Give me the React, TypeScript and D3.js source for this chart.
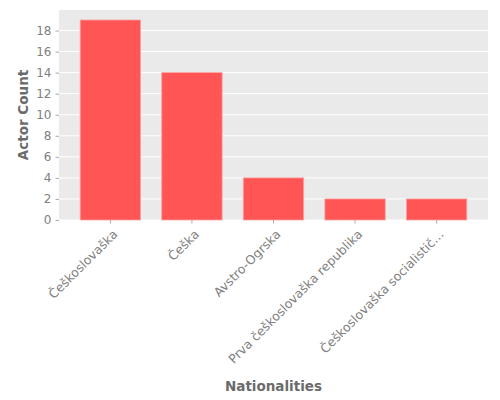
import { useEffect, useRef } from 'react';
import * as d3 from 'd3';

const nationalities = [
  'Češkoslovaška',
  'Češka',
  'Avstro-Ogrska',
  'Prva češkoslovaška republika',
  'Češkoslovaška socialistič…',
];
const actorCounts = [19, 14, 4, 2, 2];
const yTicks = [0, 2, 4, 6, 8, 10, 12, 14, 16, 18];

export default function App() {
  const svgRef = useRef<SVGSVGElement>(null);

  useEffect(() => {
    if (!svgRef.current) return;
    const width = 500;
    const height = 400;
    const margin = { top: 10, right: 12, bottom: 180, left: 59 };
    const innerWidth = width - margin.left - margin.right;
    const innerHeight = height - margin.top - margin.bottom;
    const font = 'DejaVu Sans, sans-serif';

    const svg = d3.select(svgRef.current);
    svg.selectAll('*').remove();

    const g = svg.append('g').attr('transform', `translate(${margin.left},${margin.top})`);

    const x = d3.scaleBand<string>().domain(nationalities).range([0, innerWidth]).padding(0.26);
    const y = d3.scaleLinear().domain([0, 19.95]).range([innerHeight, 0]);

    // Background
    g.append('rect').attr('width', innerWidth).attr('height', innerHeight).attr('fill', '#EAEAEA');

    // Grid
    g.selectAll('line.grid')
      .data(yTicks)
      .enter()
      .append('line')
      .attr('x1', 0)
      .attr('x2', innerWidth)
      .attr('y1', (d) => y(d))
      .attr('y2', (d) => y(d))
      .attr('stroke', '#fff')
      .attr('stroke-width', 1);

    // Bars
    g.selectAll('rect.bar')
      .data(actorCounts)
      .enter()
      .append('rect')
      .attr('x', (_, i) => x(nationalities[i])!)
      .attr('y', (d) => y(d))
      .attr('width', x.bandwidth())
      .attr('height', (d) => innerHeight - y(d))
      .attr('fill', '#FF5555')
      .attr('stroke', '#F8A0A0')
      .attr('stroke-width', 0.8);

    // Y axis
    const yAxis = g
      .append('g')
      .call(d3.axisLeft(y).tickValues(yTicks).tickSize(3.5).tickPadding(4));
    yAxis.select('.domain').remove();
    yAxis.selectAll('line').attr('stroke', '#aaa');
    yAxis
      .selectAll('text')
      .attr('fill', '#808080')
      .style('font-family', font)
      .style('font-size', '12px');

    // X axis
    const xAxis = g
      .append('g')
      .attr('transform', `translate(0,${innerHeight})`)
      .call(d3.axisBottom(x).tickSize(3.5).tickPadding(4));
    xAxis.select('.domain').remove();
    xAxis.selectAll('line').attr('stroke', '#aaa');
    xAxis
      .selectAll('text')
      .attr('fill', '#808080')
      .style('font-family', font)
      .style('font-size', '12.5px')
      .attr('text-anchor', 'end')
      .attr('y', 0)
      .attr('dy', 0)
      .attr('transform', 'translate(8,15) rotate(-45)');

    // Axis labels
    svg
      .append('text')
      .attr('transform', `translate(28,${margin.top + innerHeight / 2}) rotate(-90)`)
      .attr('text-anchor', 'middle')
      .attr('fill', '#6b6b6b')
      .style('font-family', font)
      .style('font-size', '13.5px')
      .style('font-weight', 'bold')
      .text('Actor Count');

    svg
      .append('text')
      .attr('x', margin.left + innerWidth / 2)
      .attr('y', 391)
      .attr('text-anchor', 'middle')
      .attr('fill', '#6b6b6b')
      .style('font-family', font)
      .style('font-size', '13.5px')
      .style('font-weight', 'bold')
      .text('Nationalities');
  }, []);

  return (
    <svg
      ref={svgRef}
      width={500}
      height={400}
      style={{ position: 'absolute', left: 0, top: 0, background: '#fff' }}
    />
  );
}
